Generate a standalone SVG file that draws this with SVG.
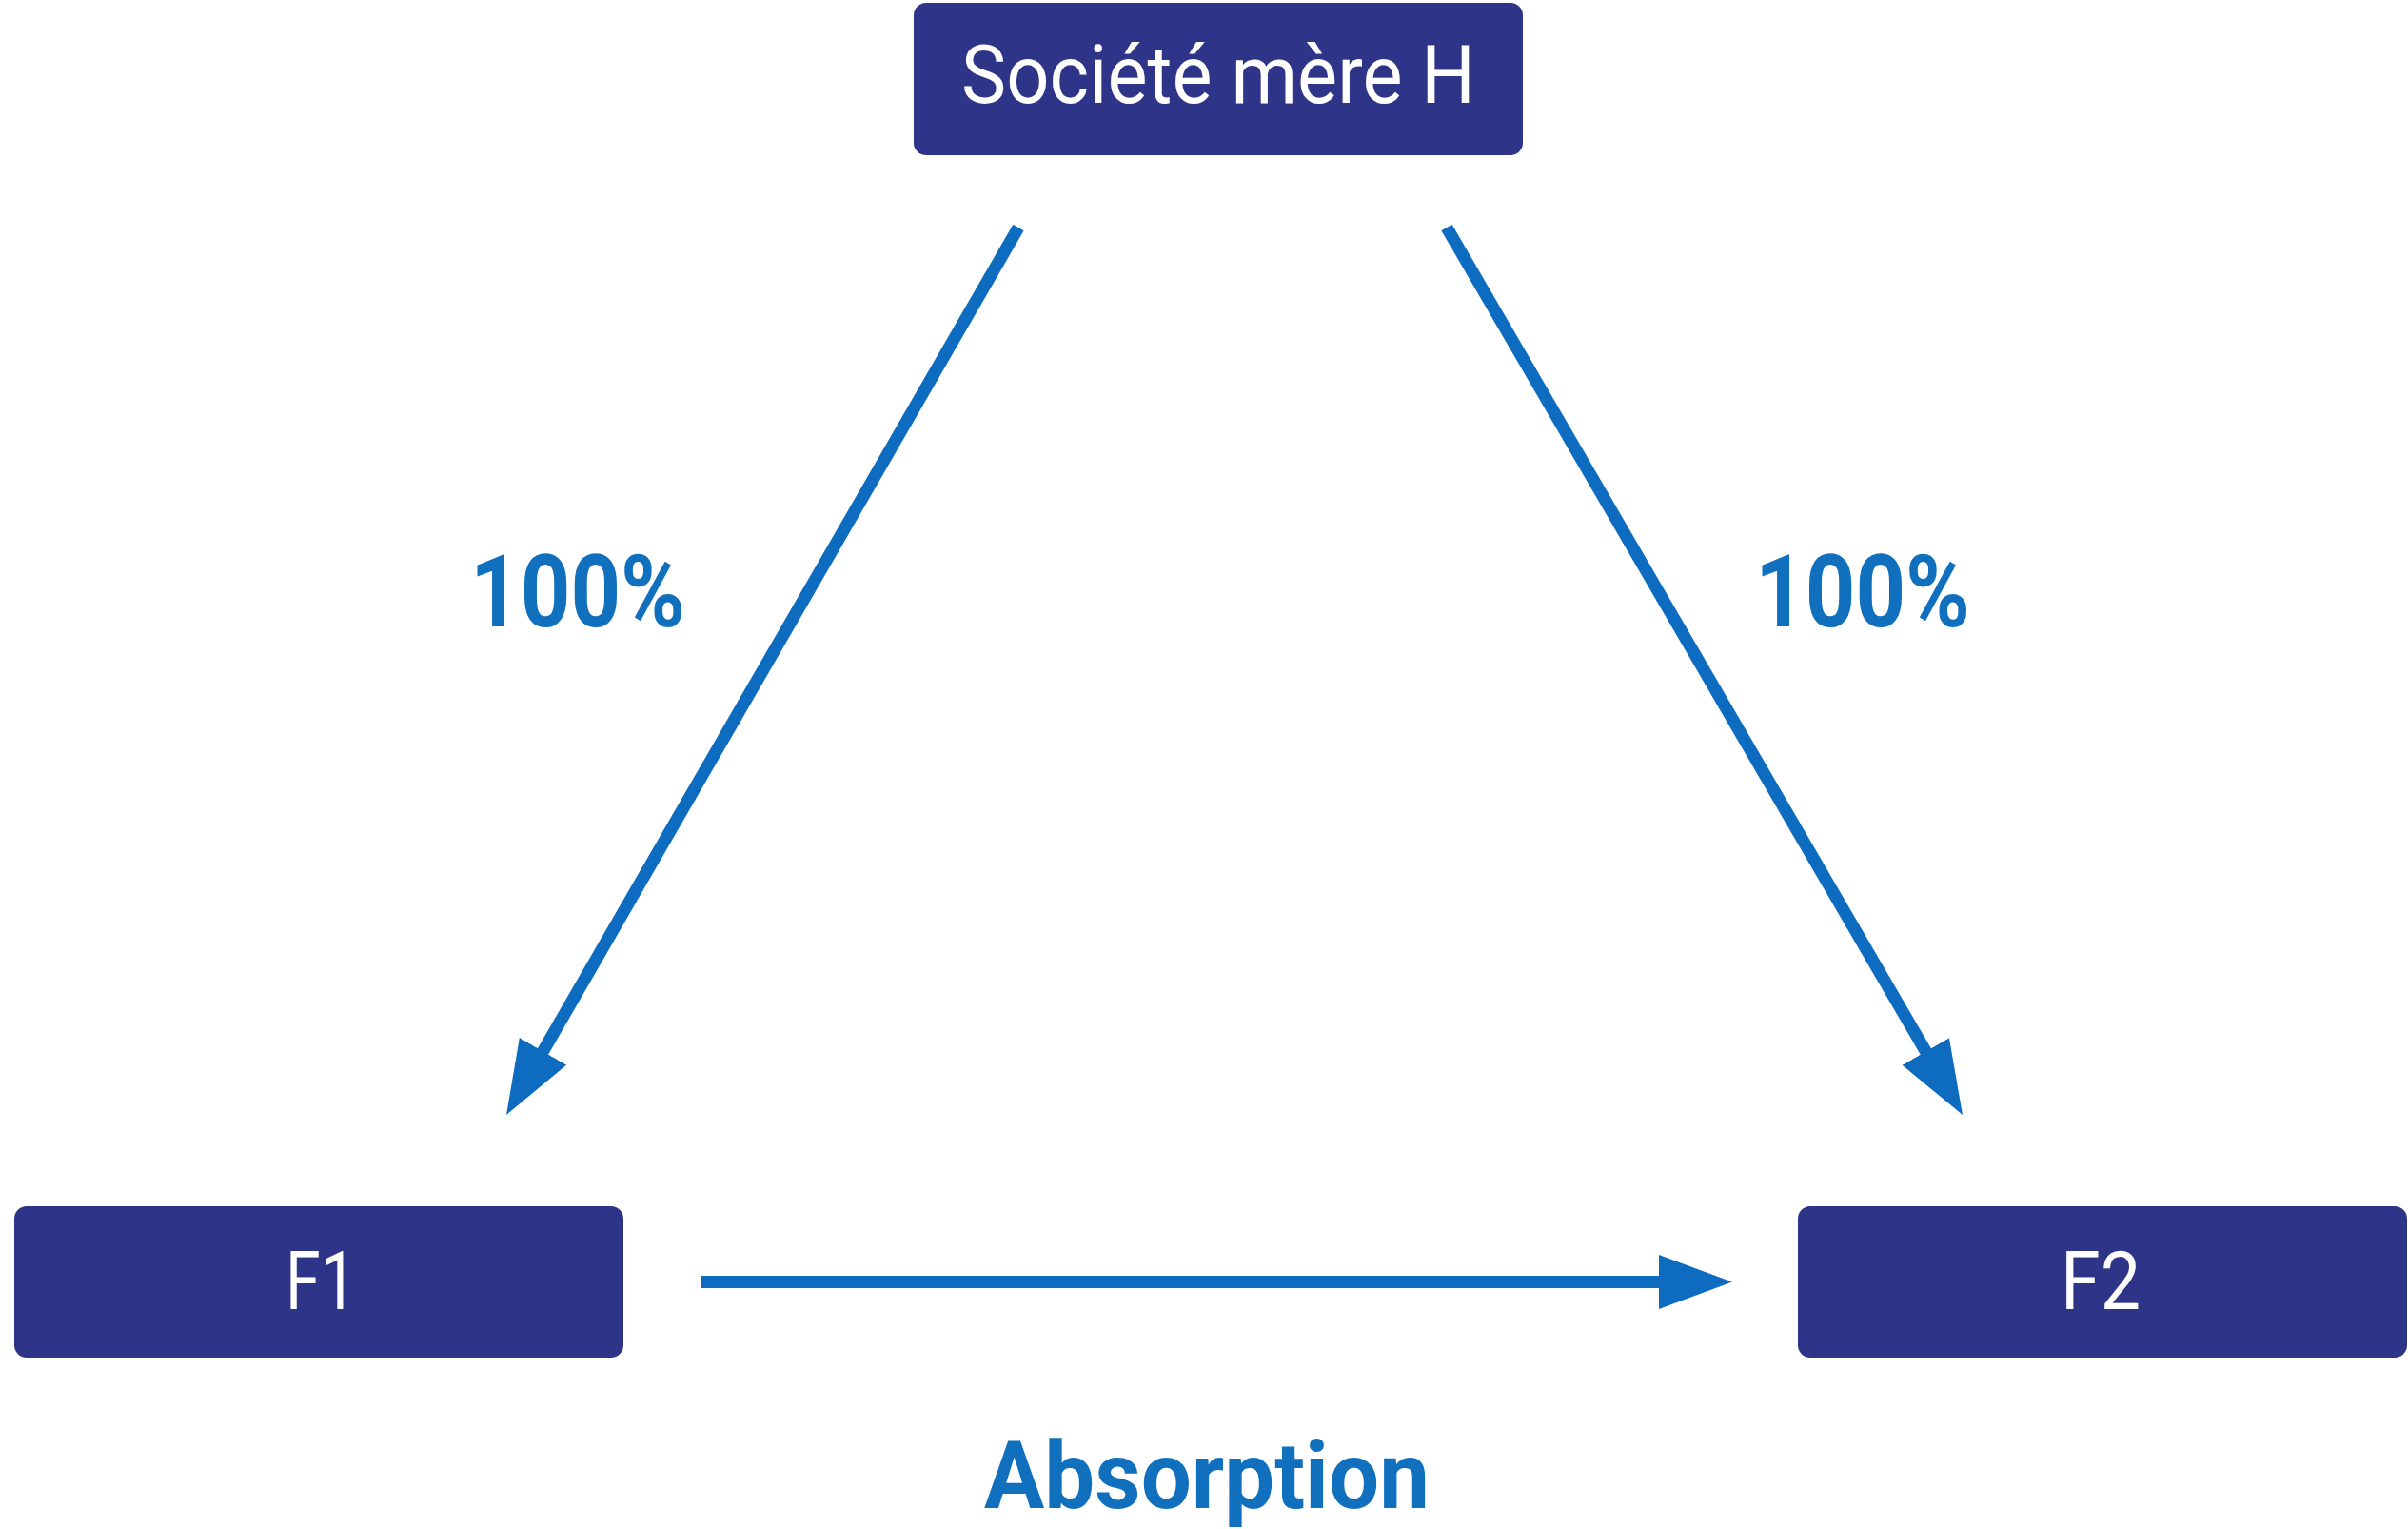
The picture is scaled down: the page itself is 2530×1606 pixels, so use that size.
<svg xmlns="http://www.w3.org/2000/svg" width="2530" height="1606" viewBox="0 0 2530 1606">
<style>
.box{fill:#2e3588}
.nt{font-family:Roboto,"Liberation Sans",sans-serif;font-size:86px;fill:#ffffff;text-anchor:middle}
.lbl{font-family:Roboto,"Liberation Sans",sans-serif;font-weight:bold;fill:#1070be;text-anchor:middle}
.conn{stroke:#0d6cc0;stroke-width:13;fill:none;marker-end:url(#ah)}
</style>
<defs>
<marker id="ah" markerUnits="userSpaceOnUse" markerWidth="80" markerHeight="60" refX="10" refY="28.5" orient="auto" viewBox="0 0 80 60">
<path d="M0,0 L77,28.5 L0,57 Z" fill="#0d6cc0"/>
</marker>
</defs>
<rect width="2530" height="1606" fill="#ffffff"/>
<g id="connectors">
<line class="conn" x1="1070" y1="239" x2="565.5" y2="1113"/>
<line class="conn" x1="1520" y1="239" x2="2028.3" y2="1113.1"/>
<line class="conn" x1="737" y1="1346.5" x2="1753" y2="1346.5"/>
</g>
<g id="node-h">
<rect class="box" x="960" y="3" width="640" height="160" rx="13"/>
<text class="nt" x="1280" y="108" font-size="87" textLength="540" lengthAdjust="spacingAndGlyphs">Société mère H</text>
</g>
<g id="node-f1">
<rect class="box" x="15" y="1267" width="640" height="159" rx="13"/>
<text class="nt" x="337" y="1375" textLength="74" lengthAdjust="spacingAndGlyphs">F1</text>
</g>
<g id="node-f2">
<rect class="box" x="1889" y="1267" width="640" height="159" rx="13"/>
<text class="nt" x="2207" y="1375" textLength="84" lengthAdjust="spacingAndGlyphs">F2</text>
</g>
<g id="labels">
<text class="lbl" x="607" y="658" font-size="105" textLength="226" lengthAdjust="spacingAndGlyphs">100%</text>
<text class="lbl" x="1957" y="658" font-size="105" textLength="226" lengthAdjust="spacingAndGlyphs">100%</text>
<text class="lbl" x="1268" y="1584" font-size="98" textLength="468" lengthAdjust="spacingAndGlyphs">Absorption</text>
</g>
</svg>
